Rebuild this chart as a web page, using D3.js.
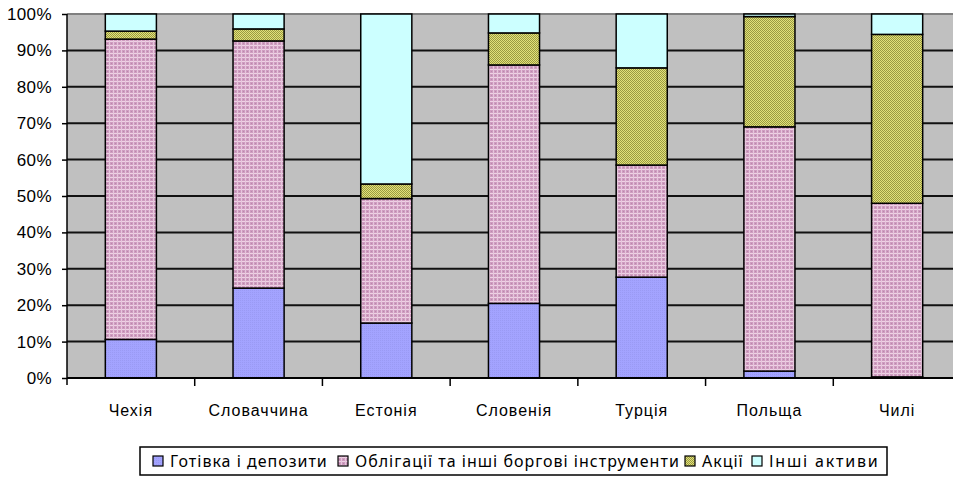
<!DOCTYPE html>
<html><head><meta charset="utf-8">
<script src="https://cdn.jsdelivr.net/npm/d3@7"></script>
<style>
html,body{margin:0;padding:0;background:#fff;}
svg{display:block;font-family:"Noto Sans","DejaVu Sans",sans-serif;}
</style></head>
<body>
<svg id="c" width="953" height="481"></svg>
<script>
const categories = ["Чехія","Словаччина","Естонія","Словенія","Турція","Польща","Чилі"];
const seriesNames = ["Готівка і депозити","Облігації та інші боргові інструменти","Акції","Інші активи"];
const cash   = [10.6, 24.7, 15.1, 20.5, 27.7, 1.9, 0.3];
const bonds  = [82.5, 67.9, 34.2, 65.5, 30.8, 67.1, 47.7];
const shares = [2.2, 3.3, 4.0, 8.8, 26.7, 30.3, 46.4];
const other  = [4.7, 4.1, 46.7, 5.2, 14.8, 0.7, 5.6];
const yTicks = [0,0.1,0.2,0.3,0.4,0.5,0.6,0.7,0.8,0.9,1.0];

const svg = d3.select("#c");
const defs = svg.append("defs");

// patterns
const pCash = defs.append("pattern").attr("id","pCash").attr("width",2).attr("height",2).attr("patternUnits","userSpaceOnUse");
pCash.append("rect").attr("width",2).attr("height",2).attr("fill","#a3a3ff");
pCash.append("rect").attr("width",1).attr("height",1).attr("fill","#9a9af4");

const pBonds = defs.append("pattern").attr("id","pBonds").attr("width",4).attr("height",4).attr("patternUnits","userSpaceOnUse");
pBonds.append("rect").attr("width",4).attr("height",4).attr("fill","#cf9cc0");
pBonds.append("rect").attr("x",0).attr("y",1).attr("width",4).attr("height",1).attr("fill","#eed2e4");
pBonds.append("rect").attr("x",1).attr("y",0).attr("width",1).attr("height",4).attr("fill","#e6c6dc");
pBonds.append("rect").attr("x",3).attr("y",3).attr("width",1).attr("height",1).attr("fill","#b98aac");

const pShares = defs.append("pattern").attr("id","pShares").attr("width",2).attr("height",2).attr("patternUnits","userSpaceOnUse");
pShares.append("rect").attr("width",2).attr("height",2).attr("fill","#e2e27a");
pShares.append("rect").attr("x",0).attr("y",0).attr("width",1).attr("height",1).attr("fill","#9a9a42");
pShares.append("rect").attr("x",1).attr("y",1).attr("width",1).attr("height",1).attr("fill","#9a9a42");

const fills = ["url(#pCash)","url(#pBonds)","url(#pShares)","#ccffff"];

const pL = 67, pR = 961, pT = 14, pB = 378;

const x = d3.scaleBand().domain(categories).range([pL,pR]).paddingInner(0.6).paddingOuter(0.3);
const xb = d3.scaleBand().domain(categories).range([pL,pR]);
const y = d3.scaleLinear().domain([0,1]).range([pB,pT]);

// plot background
svg.append("rect").attr("x",pL).attr("y",pT).attr("width",pR-pL).attr("height",pB-pT).attr("fill","#c0c0c0");

// gridlines
svg.append("g").selectAll("line").data(yTicks.filter(t=>t>0 && t<1)).join("line")
  .attr("x1",pL).attr("x2",pR).attr("y1",d=>y(d)).attr("y2",d=>y(d))
  .attr("stroke","#111").attr("stroke-width",2);
svg.append("line").attr("x1",pL).attr("x2",pR).attr("y1",y(1)).attr("y2",y(1))
  .attr("stroke","#808080").attr("stroke-width",2);

// stacked data
const rows = categories.map((c,i)=>{
  const tot = cash[i]+bonds[i]+shares[i]+other[i];
  return {cat:c, s0:cash[i]/tot, s1:bonds[i]/tot, s2:shares[i]/tot, s3:other[i]/tot};
});
const stack = d3.stack().keys(["s0","s1","s2","s3"])(rows);

svg.append("g").selectAll("g").data(stack).join("g")
  .attr("fill",(d,i)=>fills[i])
  .selectAll("rect").data(d=>d).join("rect")
  .attr("x",d=>x(d.data.cat)).attr("width",x.bandwidth())
  .attr("y",d=>y(d[1])).attr("height",d=>y(d[0])-y(d[1]))
  .attr("stroke","#000").attr("stroke-width",1.5);

// y axis
const yAxis = d3.axisLeft(y).tickValues(yTicks).tickFormat(d3.format(".0%")).tickSize(5).tickPadding(10);
const gy = svg.append("g").attr("transform",`translate(${pL},0)`).call(yAxis);
gy.select(".domain").remove();
gy.selectAll(".tick line").attr("stroke","#000").attr("stroke-width",1.5);
gy.selectAll(".tick text").attr("font-size",17).attr("fill","#000").attr("letter-spacing","0.4px");
svg.append("line").attr("x1",pL).attr("x2",pL).attr("y1",pT).attr("y2",pB+7).attr("stroke","#000").attr("stroke-width",1.5);

// x axis
svg.append("line").attr("x1",pL).attr("x2",pR).attr("y1",pB).attr("y2",pB).attr("stroke","#000").attr("stroke-width",2);
const xAxis = d3.axisBottom(xb).tickSize(0).tickPadding(27);
const gx = svg.append("g").attr("transform",`translate(0,${pB})`).call(xAxis);
gx.select(".domain").remove();
gx.selectAll(".tick text").attr("font-size",16).attr("fill","#000").attr("letter-spacing","1px");
svg.append("g").selectAll("line").data(categories.slice(1)).join("line")
  .attr("x1",d=>xb(d)).attr("x2",d=>xb(d)).attr("y1",pB).attr("y2",pB+8)
  .attr("stroke","#000").attr("stroke-width",1.5);

// legend
const legX = [153, 338, 685, 752];
const lg = svg.append("g");
lg.append("rect").attr("x",140).attr("y",447).attr("width",747).attr("height",28)
  .attr("fill","#fff").attr("stroke","#000").attr("stroke-width",1.5);
seriesNames.forEach((n,i)=>{
  lg.append("rect").attr("x",legX[i]).attr("y",456).attr("width",10).attr("height",10)
    .attr("fill",fills[i]).attr("stroke","#000").attr("stroke-width",1.2);
  lg.append("text").attr("x",legX[i]+17).attr("y",467).attr("font-size",16)
    .attr("letter-spacing", i === 3 ? "1.8px" : "1px").text(n);
});
</script>
</body></html>
